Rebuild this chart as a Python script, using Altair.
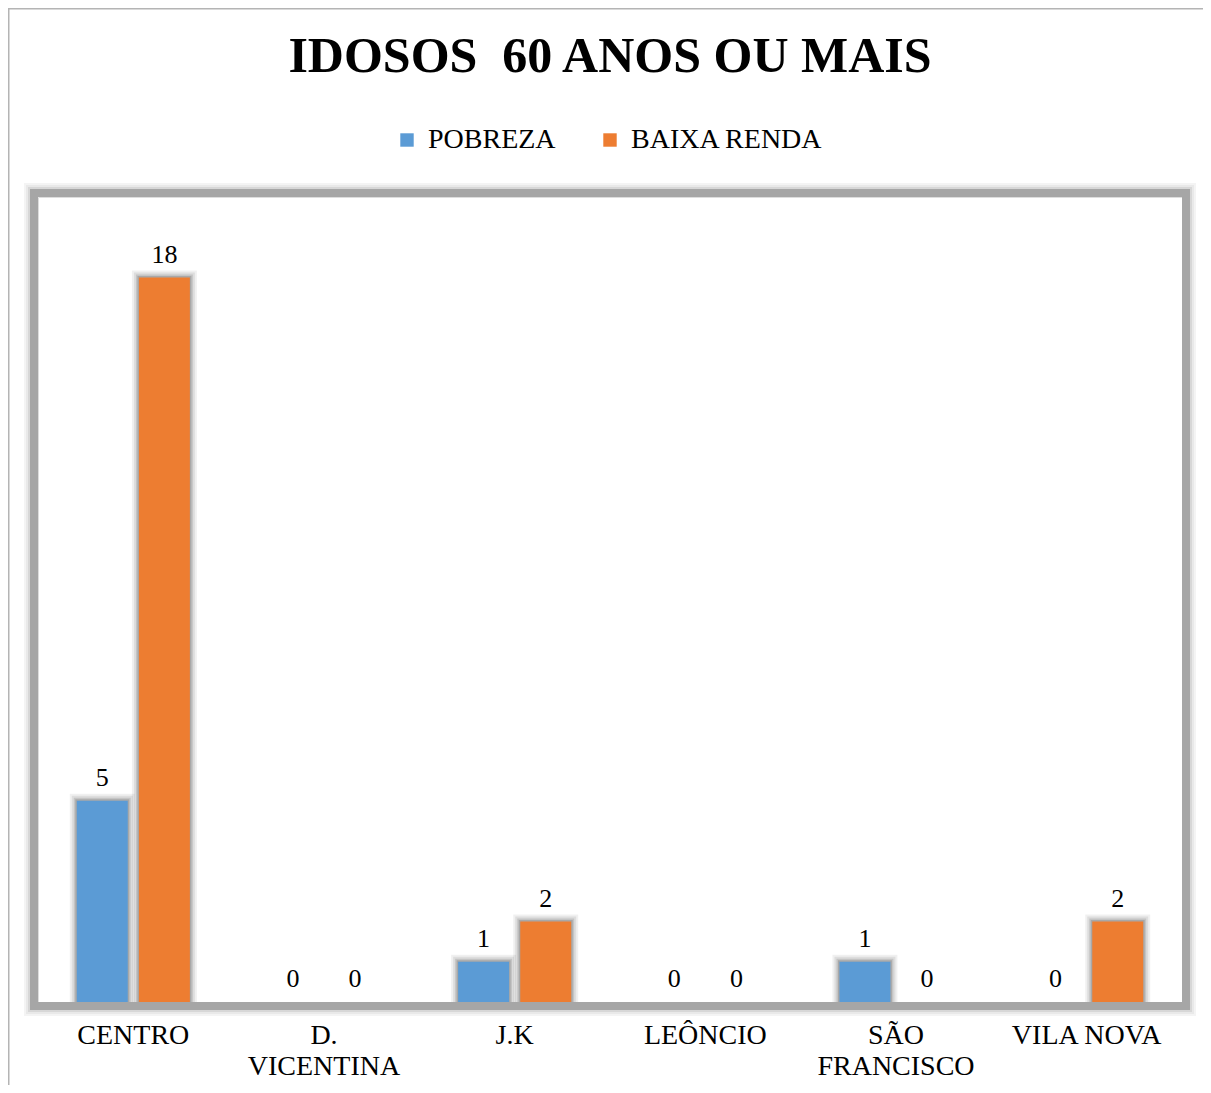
import altair as alt
import pandas as pd

categories = ["CENTRO", "D. VICENTINA", "J.K", "LEÔNCIO", "SÃO FRANCISCO", "VILA NOVA"]
series = ["POBREZA", "BAIXA RENDA"]
pobreza = [5, 0, 1, 0, 1, 0]
baixa_renda = [18, 0, 2, 0, 0, 2]
colors = ["#5b9bd5", "#ed7d31"]
title_text = "IDOSOS\u00a0 60 ANOS OU MAIS"

rows = []
for i, c in enumerate(categories):
    rows.append({"bairro": c, "serie": series[0], "valor": pobreza[i]})
    rows.append({"bairro": c, "serie": series[1], "valor": baixa_renda[i]})
df = pd.DataFrame(rows)

W, H = 1144, 805
FONT = "Liberation Serif"

label_expr = (
    "datum.label == 'D. VICENTINA' ? ['D.', 'VICENTINA'] : "
    "datum.label == 'SÃO FRANCISCO' ? ['SÃO', 'FRANCISCO'] : datum.label"
)

x = alt.X(
    "bairro:N",
    sort=categories,
    scale=alt.Scale(paddingInner=0.407, paddingOuter=0.2035),
    axis=alt.Axis(
        title=None, labelAngle=0, domain=False, ticks=False, grid=False,
        labelFont=FONT, labelFontSize=28, labelColor="#000000",
        labelPadding=19, labelLineHeight=31, labelExpr=label_expr,
    ),
)
xo = alt.XOffset("serie:N", sort=series, scale=alt.Scale(paddingInner=0.18))
y = alt.Y("valor:Q", scale=alt.Scale(domain=[0, 20]), axis=None)

base = alt.Chart(df)

shadows = []
for sw, op in [(14, 0.06), (10, 0.08), (6, 0.11), (3, 0.14)]:
    shadows.append(
        base.transform_filter("datum.valor > 0")
        .mark_bar(fillOpacity=0, stroke="#000000", strokeWidth=sw, strokeOpacity=op)
        .encode(x=x, xOffset=xo, y=y)
    )

bars = base.mark_bar().encode(
    x=x,
    xOffset=xo,
    y=y,
    color=alt.Color(
        "serie:N",
        sort=series,
        scale=alt.Scale(domain=series, range=colors),
        legend=alt.Legend(
            orient="none", legendX=355, legendY=-71, direction="horizontal",
            title=None, symbolType="square", symbolSize=180, symbolStrokeWidth=0,
            labelFont=FONT, labelFontSize=28, labelColor="#000000", labelLimit=500,
            columnPadding=40, labelOffset=7, padding=0,
        ),
    ),
)

labels = base.mark_text(
    baseline="alphabetic", dy=-15, font=FONT, fontSize=26, color="#000000"
).encode(x=x, xOffset=xo, y=y, text="valor:Q")

one = pd.DataFrame({"k": [0]})

title = alt.Chart(one).mark_text(
    text=title_text, font=FONT, fontSize=50, fontWeight="bold", color="#000000",
    align="center", baseline="alphabetic",
).encode(x=alt.value(W / 2), y=alt.value(-125))

frame_layers = []
for off, sw, op in [(-13, 2, 0.12), (-11, 2, 0.25), (-9, 2, 0.45)]:
    frame_layers.append(
        alt.Chart(one).mark_rect(filled=False, stroke="#a6a6a6", strokeWidth=sw, strokeOpacity=op)
        .encode(x=alt.value(off), x2=alt.value(W - off), y=alt.value(off), y2=alt.value(H - off))
    )
frame_layers.append(
    alt.Chart(one).mark_rect(filled=False, stroke="#a6a6a6", strokeWidth=8)
    .encode(x=alt.value(-4), x2=alt.value(W + 4), y=alt.value(-4), y2=alt.value(H + 4))
)
outer = alt.Chart(one).mark_rect(filled=False, stroke="#b4b4b4", strokeWidth=1.5).encode(
    x=alt.value(-29.25), x2=alt.value(W + 200), y=alt.value(-188.25), y2=alt.value(H + 300)
)

chart = alt.layer(outer, title, *shadows, bars, labels, *frame_layers).properties(
    width=W,
    height=H,
    autosize=alt.AutoSizeParams(type="none"),
    padding={"left": 30, "top": 189, "right": 21, "bottom": 83},
).configure_view(strokeOpacity=0).configure(background="white")

chart.save("out.html", embed_options={"renderer": "svg", "actions": False})
